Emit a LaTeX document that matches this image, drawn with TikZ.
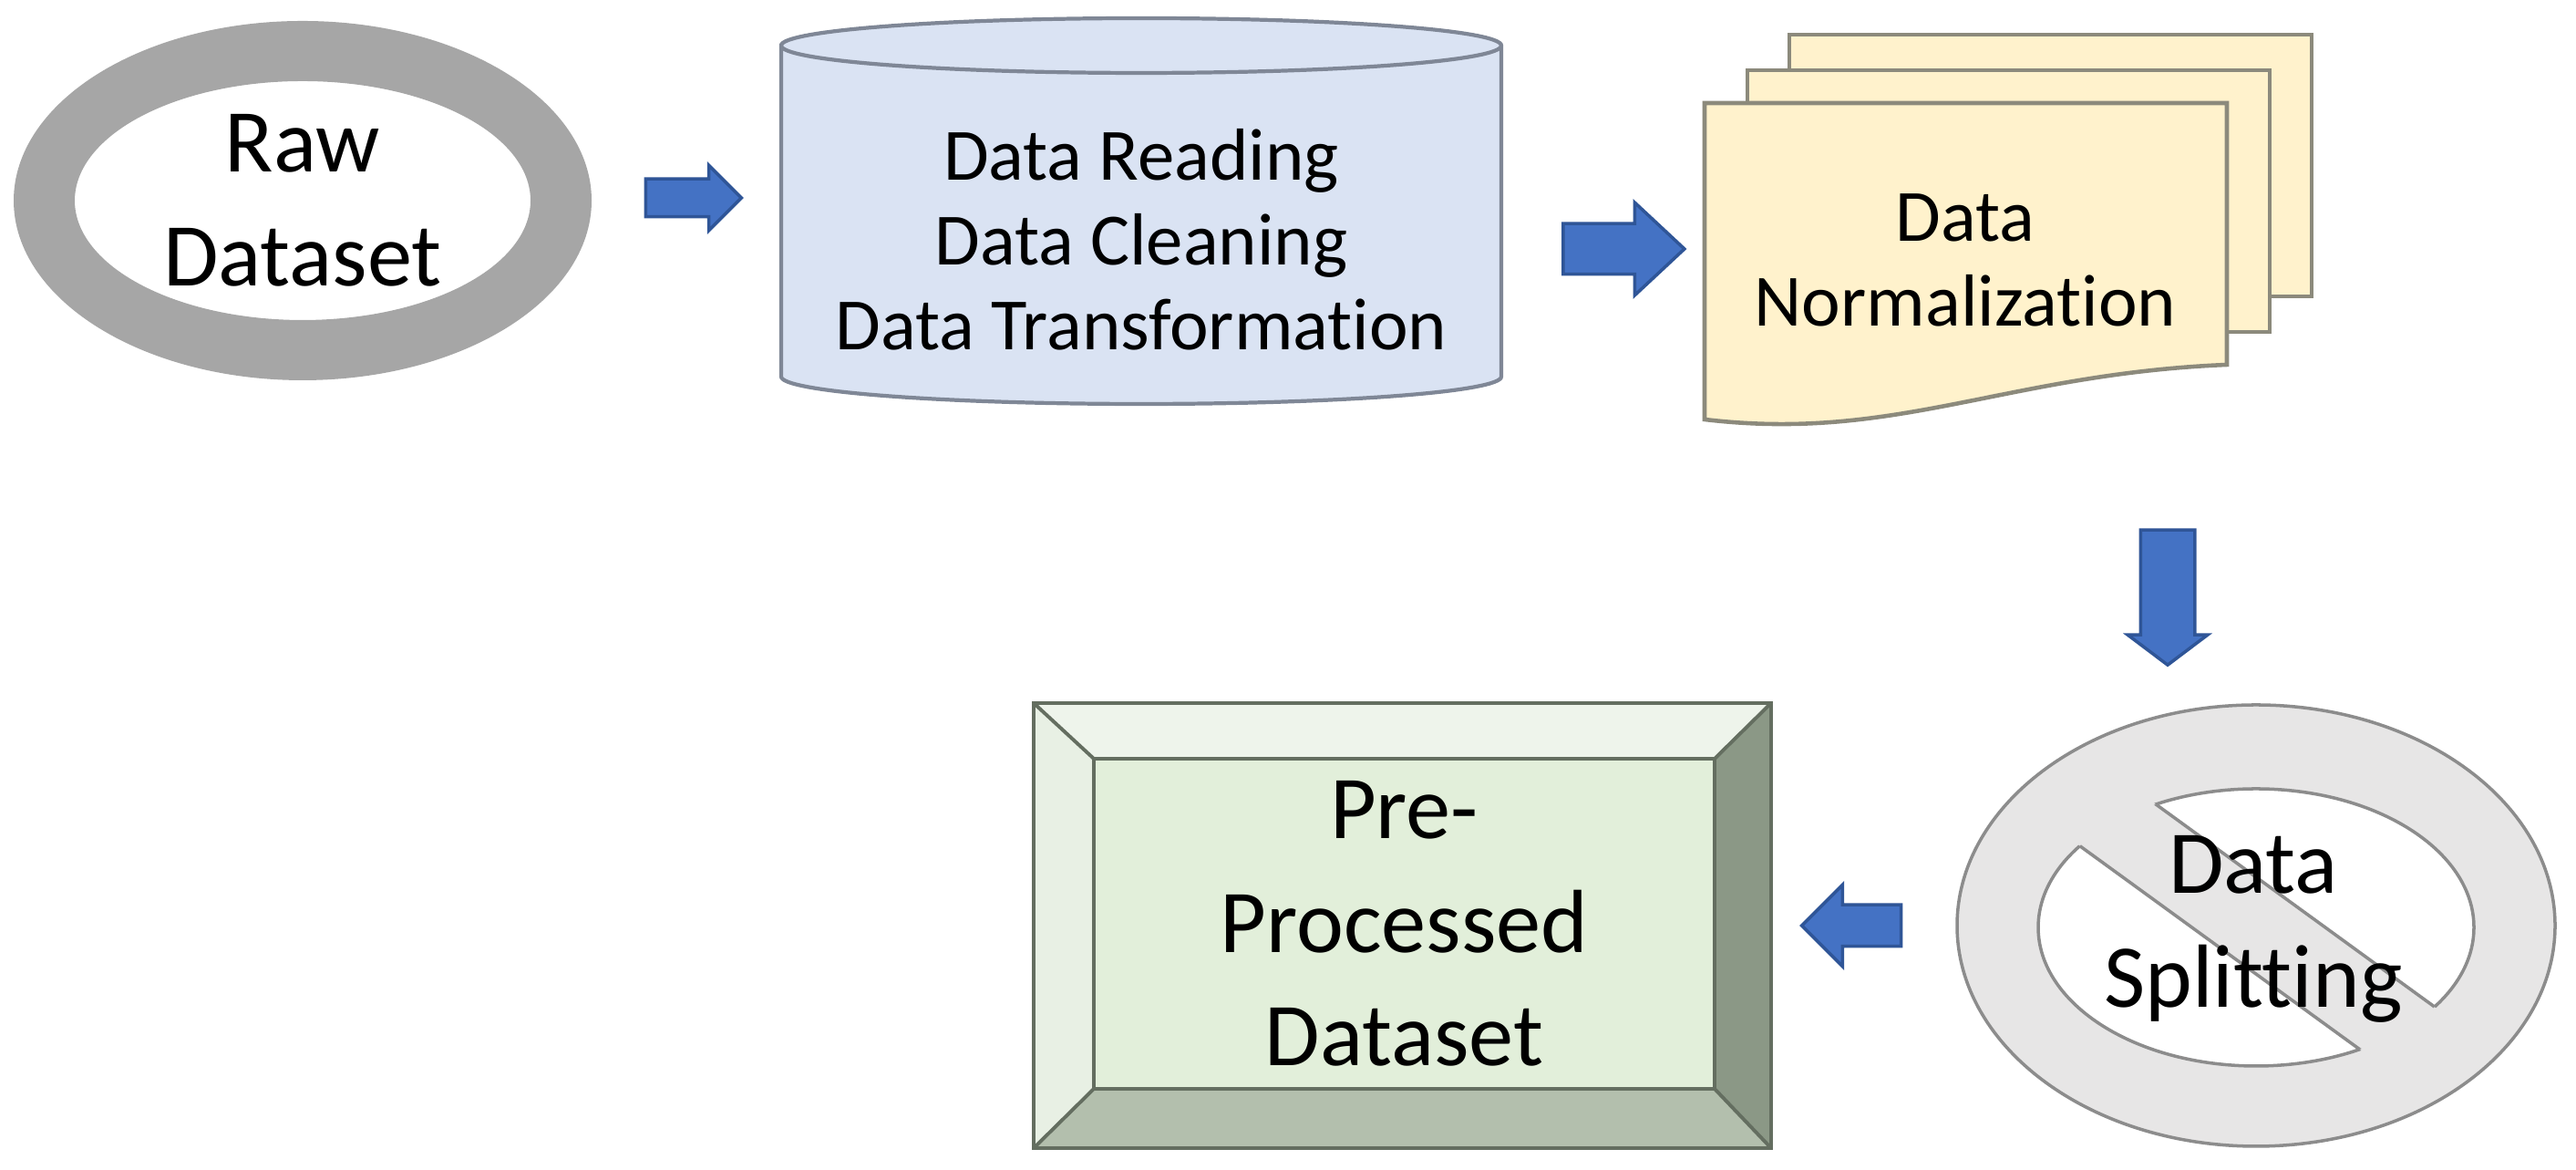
\documentclass[tikz,border=0pt]{standalone}
\usepackage{fontspec}
\setmainfont{Carlito}[Ligatures=NoCommon]
\usetikzlibrary{shapes.arrows,backgrounds}

\definecolor{arrowfill}{HTML}{4472C4}
\definecolor{arrowline}{HTML}{2F5597}
\definecolor{ringgray}{HTML}{A6A6A6}
\definecolor{cylfill}{HTML}{DAE3F3}
\definecolor{cylline}{HTML}{7F8796}
\definecolor{docfill}{HTML}{FFF2CC}
\definecolor{docline}{HTML}{8C8A7C}
\definecolor{splitfill}{HTML}{E7E6E6}
\definecolor{splitline}{HTML}{8C8C8C}
\definecolor{facefill}{HTML}{E2EFDA}
\definecolor{bevtop}{HTML}{EEF4EB}
\definecolor{bevleft}{HTML}{E8F0E4}
\definecolor{bevright}{HTML}{8B9886}
\definecolor{bevbottom}{HTML}{B3BFAD}
\definecolor{bevline}{HTML}{646E60}

\begin{document}
\begin{tikzpicture}[
    big/.style = {align=center, font=\fontsize{28}{35.5}\selectfont},% texts in ring, plate, sign
  small/.style = {align=center, font=\fontsize{23}{26.5}\selectfont},% texts in drum and pages
 barrow/.style n args = {3}{single arrow, draw=arrowline, fill=arrowfill,
                line width=1pt, inner xsep=0pt, inner ysep=#2,
                single arrow head extend=#3, minimum height=#1},% length, half shaft, head
    doc/.style = {draw=docline, fill=docfill, line width=1.3pt},
  bevel/.style = {draw=bevline, line width=1.1pt, line join=miter},
   hole/.style = {draw=splitline, line width=1pt},
                    ]
\useasboundingbox (0,0) rectangle (28.26,12.83);
% texts
\node[big]   (raw)   at (3.32,10.63)  {Raw\\Dataset};
\node[small] (read)  at (12.52,10.20) {Data Reading\\Data Cleaning\\Data Transformation};
\node[small] (norm)  at (21.56,9.98)  {Data\\Normalization};
\node[big]   (split) at (24.72,2.64)  {Data\\Splitting};
\node[big, minimum width=6.79cm, minimum height=3.60cm, inner sep=0pt]
             (prep)  at (15.405,2.70) {Pre-\\Processed\\Dataset};
\node[minimum width=8.07cm, minimum height=4.86cm, inner sep=0pt]
             (bev)   at (15.385,2.68) {};
% block arrows
\node[barrow={1.05cm}{0.19cm}{0.15cm}] (a1) at (7.505,10.66) {};
\node[barrow={1.33cm}{0.26cm}{0.23cm}, single arrow tip angle=86] (a2) at (17.665,10.10) {};
\node[barrow={1.48cm}{0.28cm}{0.14cm}, single arrow tip angle=106, rotate=-90] (a3) at (23.78,6.39) {};
\node[barrow={1.09cm}{0.21cm}{0.22cm}, rotate=180] (a4) at (20.425,2.68) {};

\begin{scope}[on background layer]
% raw dataset ring
\fill[ringgray, even odd rule] (raw.center) ellipse [x radius=3.17, y radius=1.97]
                               (raw.center) ellipse [x radius=2.50, y radius=1.31];
% drum
\filldraw[fill=cylfill, draw=cylline, line width=1.2pt]
    (8.57,12.33) -- (8.57,8.70) arc [start angle=180, end angle=360, x radius=3.95, y radius=0.30]
    -- (16.47,12.33) arc [start angle=0, end angle=180, x radius=3.95, y radius=0.30] -- cycle;
\draw[cylline, line width=1.2pt]
    (16.47,12.33) arc [start angle=0, end angle=-180, x radius=3.95, y radius=0.30];
% pages
\foreach \dx/\dy in {0.93/0.75, 0.47/0.36}
  \filldraw[doc] ({18.70+\dx},{8.83+\dy}) rectangle ({24.43+\dx},{11.70+\dy});
\filldraw[doc] (18.70,11.70) -- (24.43,11.70) -- (24.43,8.83)
    .. controls (22.00,8.73) and (20.80,7.98) .. (18.70,8.23) -- cycle;
% no-sign
\filldraw[fill=splitfill, hole] (24.75,2.68) ellipse [x radius=3.28, y radius=2.42];
\foreach \s in {1,-1}{
  \begin{scope}
    \clip[shift={(24.75,2.68)}, rotate=-36] (-4,{0.43*\s}) rectangle (4,{4*\s});
    \filldraw[fill=white, hole] (24.75,2.66) ellipse [x radius=2.39, y radius=1.52];
  \end{scope}}
\begin{scope}
  \clip (24.75,2.66) ellipse [x radius=2.39, y radius=1.52];
  \draw[hole, shift={(24.75,2.68)}, rotate=-36]
      (-4,0.43) -- (4,0.43) (-4,-0.43) -- (4,-0.43);
\end{scope}
% bevelled plate
\foreach \a/\b/\col in {north west/north east/bevtop, north east/south east/bevright,
                        south east/south west/bevbottom, south west/north west/bevleft}
  \fill[\col] (bev.\a) -- (bev.\b) -- (prep.\b) -- (prep.\a) -- cycle;
\fill[facefill] (prep.south west) rectangle (prep.north east);
\draw[bevel] (bev.south west) rectangle (bev.north east)
             (prep.south west) rectangle (prep.north east);
\foreach \c in {north west, north east, south east, south west}
  \draw[bevel] (bev.\c) -- (prep.\c);
\end{scope}
\end{tikzpicture}
\end{document}
